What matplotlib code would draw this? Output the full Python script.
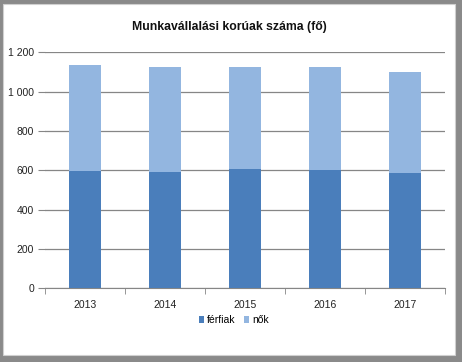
import matplotlib
matplotlib.use("Agg")
import matplotlib.pyplot as plt
from matplotlib.patches import Rectangle
import numpy as np

years = ["2013", "2014", "2015", "2016", "2017"]
ferfiak = [595, 592, 606, 600, 584]
nok = [539, 533, 519, 525, 516]
yticks = [0, 200, 400, 600, 800, 1000, 1200]
ytick_labels = ["0", "200", "400", "600", "800", "1 000", "1 200"]
title = "Munkavállalási korúak száma (fő)"
legend_labels = ["férfiak", "nők"]

plt.rcParams['font.family'] = ['Liberation Sans', 'DejaVu Sans']

fig = plt.figure(figsize=(4.62, 3.62), dpi=100)
fig.patch.set_facecolor("white")
# outer gray frame
fig.patches.append(Rectangle((0, 0), 1, 1, transform=fig.transFigure,
                             facecolor="#8a8a8a", edgecolor="none", zorder=-10))
fig.patches.append(Rectangle((3/462, 7/362), (455-3)/462, (360-2-7)/362,
                             transform=fig.transFigure, facecolor="white",
                             edgecolor="#d0d0d0", linewidth=0.8, zorder=-9))

ax = fig.add_axes([45/462, 1-288.3/362, 400/462, 236/362])
ax.set_facecolor("none")
x = np.arange(len(years))
w = 0.39
ax.bar(x, ferfiak, width=w, color="#4a7ebb", label=legend_labels[0], zorder=3)
ax.bar(x, nok, width=w, bottom=ferfiak, color="#93b6e0", label=legend_labels[1], zorder=3)

ax.set_xlim(-0.5, len(years) - 0.5)
ax.set_ylim(0, 1200)
ax.set_yticks(yticks)
ax.set_yticklabels(ytick_labels, fontsize=7.5, color="#222222")
ax.yaxis.grid(True, color="#868686", linewidth=0.9, zorder=0)
ax.set_axisbelow(True)
ax.tick_params(axis="y", length=5, color="#868686", pad=3)
ax.set_xticks(x)
ax.set_xticklabels(years, fontsize=7.5, color="#222222")
ax.set_xticks(np.arange(len(years) + 1) - 0.5, minor=True)
ax.tick_params(axis="x", which="major", length=0, pad=8.5)
ax.tick_params(axis="x", which="minor", length=4, color="#868686")
for s in ["left", "right", "top"]:
    ax.spines[s].set_visible(False)
ax.spines["bottom"].set_color("#868686")

fig.text(229/462, 1-27/362, title, ha="center", va="center", fontsize=8.8,
         fontweight="bold", color="#111111")

ax.legend(loc="center", bbox_to_anchor=(234/462, 1-320/362), bbox_transform=fig.transFigure,
          ncol=2, frameon=False, fontsize=7.5, handlelength=0.5, handleheight=0.6,
          handletextpad=0.3, columnspacing=0.8)

fig.savefig("out.png", dpi=100)
